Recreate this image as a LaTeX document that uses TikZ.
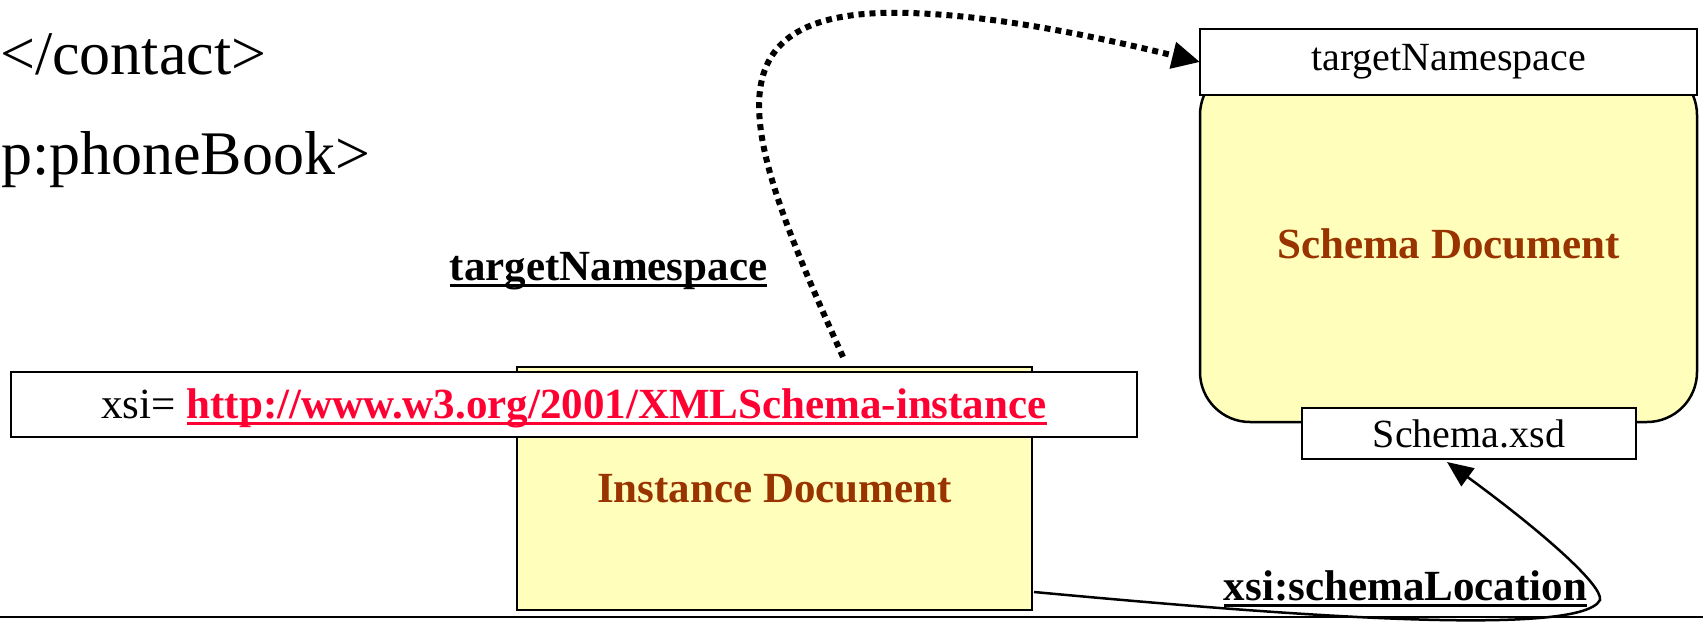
\documentclass[tikz,border=0pt]{standalone}
\usepackage{fontspec}
\setmainfont{Liberation Serif}
\usetikzlibrary{arrows.meta,calc}
\definecolor{docyellow}{HTML}{FFFFBB}
\definecolor{docbrown}{HTML}{993300}
\definecolor{linkred}{HTML}{FF0033}
\newcommand\myul[1]{\setbox0\hbox{#1}\rlap{\rule[-0.17em]{\wd0}{0.07em}}\box0}
\begin{document}
\begin{tikzpicture}[x=1pt,y=-1pt,
  box/.style={draw,line width=2.5pt,inner sep=0pt,outer sep=0pt},
  doctext/.style={text=docbrown,font=\fontsize{43}{50}\selectfont\bfseries},
  plain40/.style={font=\fontsize{40}{46}\selectfont},
  ullabel/.style={anchor=base,inner sep=0pt,font=\fontsize{43}{50}\selectfont\bfseries},
  codetext/.style={anchor=base west,inner sep=0pt,font=\fontsize{62}{70}\selectfont}]
\useasboundingbox (0,0) rectangle (1703,623);

% code fragments
\node[codetext] (c1) at (0,75) {</contact>};
\node[codetext] (c2) at (1,175) {p:phoneBook>};

% instance document
\node[box,fill=docyellow,minimum width=515pt,minimum height=243pt,doctext] (inst) at (774.5,488.5) {Instance Document};
\node[box,fill=white,minimum width=1126pt,minimum height=65pt,text height=32pt,text depth=5pt,font=\fontsize{43}{50}\selectfont] (xsi) at (574,404.5)
  {xsi= {\color{linkred}\bfseries\myul{http://www.w3.org/2001/XMLSchema-instance}}};

% schema document
\node[box,fill=docyellow,rounded corners=50pt,minimum width=497pt,minimum height=357pt,doctext] (sdoc) at (1448.5,243.5) {Schema Document};
\node[box,fill=white,minimum width=497pt,minimum height=66pt,plain40] (tns) at (1448.5,62) {targetNamespace};
\node[box,fill=white,minimum width=334pt,minimum height=51pt,plain40] (xsd) at (1469,433.5) {Schema.xsd};

% labels
\node[ullabel] (lbl1) at (608.5,280) {\myul{targetNamespace}};
\node[ullabel] (lbl2) at (1405.5,600) {\myul{xsi:schemaLocation}};

% bottom rule
\coordinate (r0) at (0,617);
\coordinate (r1) at (1703,617);
\draw[line width=2pt] (r0) -- (r1);

% dotted arrow
\coordinate (d0) at (843,357);
\draw[line width=6pt,dash pattern=on 6pt off 5pt,-{Triangle[length=28pt,width=26pt]}]
  (d0) .. controls (750,150) and (700,20) .. (880,13)
       .. controls (980,10) and (1110,40) .. (tns.west);

% solid arrow
\coordinate (s0) at (1034,592);
\coordinate (s1) at (1600,600);
\draw[line width=2.5pt,-{Triangle[length=26pt,width=22pt]}]
  (s0) .. controls (1250,612) and (1580,640) .. (s1)
       .. controls (1603,585) and (1540,530) .. ($(xsd.south)+(-22,3)$);
\end{tikzpicture}
\end{document}
